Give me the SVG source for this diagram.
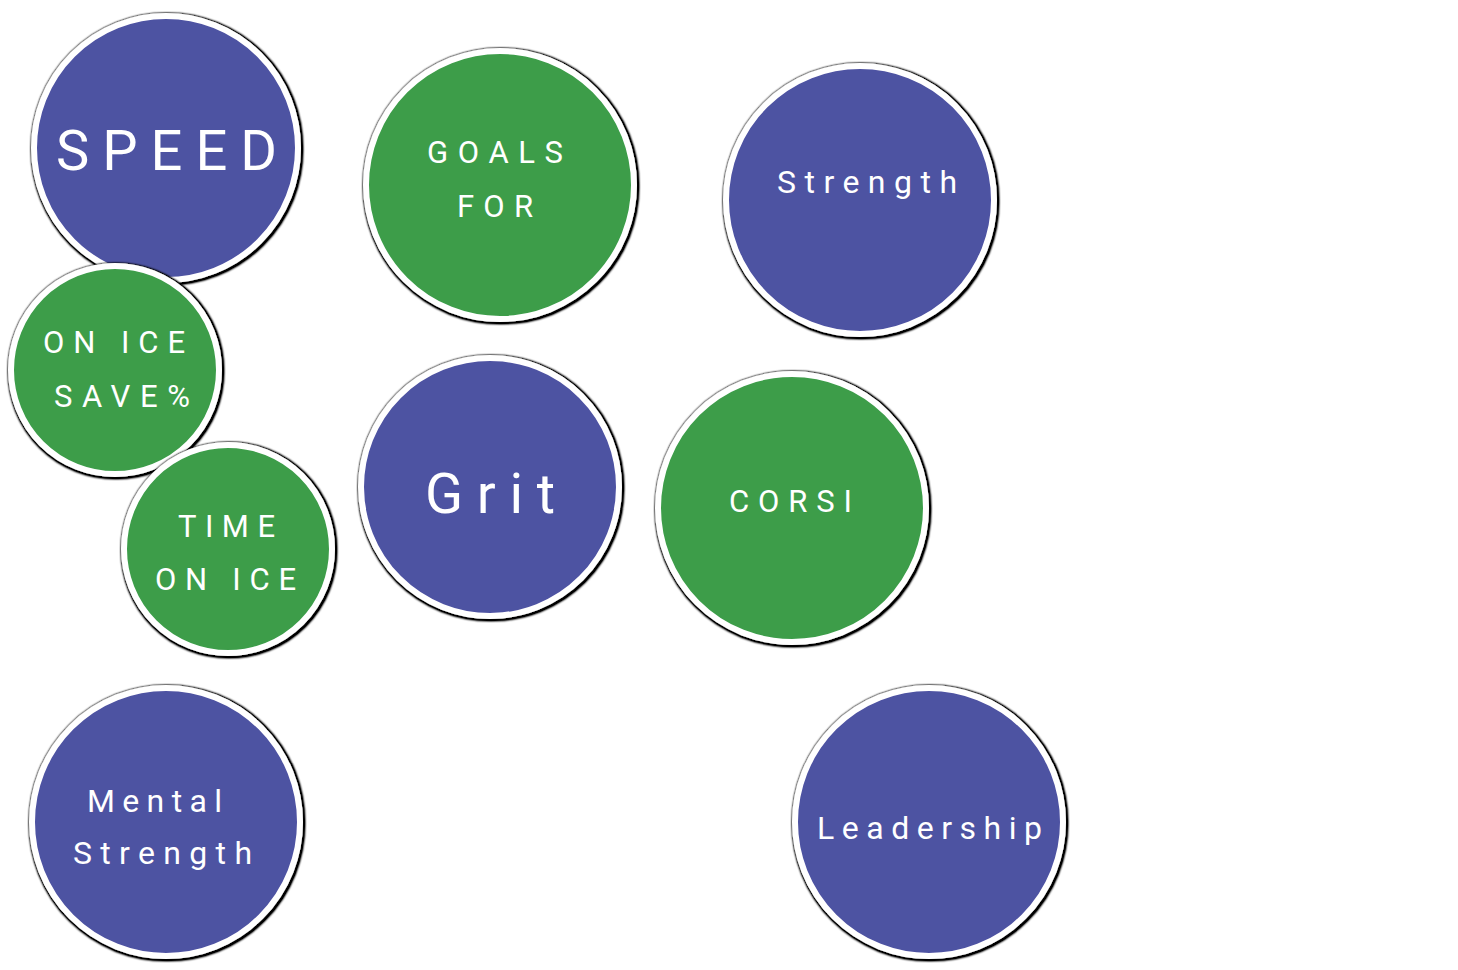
<svg xmlns="http://www.w3.org/2000/svg" width="1458" height="970" viewBox="0 0 1458 970">
<defs>
<filter id="sh" x="-10%" y="-10%" width="120%" height="120%">
<feMorphology in="SourceAlpha" operator="dilate" radius="1.2" result="d"/>
<feGaussianBlur in="d" stdDeviation="1.3" result="b"/>
<feOffset in="b" dx="0.6" dy="0.6" result="o"/>
<feComponentTransfer in="o" result="k"><feFuncA type="linear" slope="1.6"/></feComponentTransfer>
<feMerge><feMergeNode in="k"/><feMergeNode in="SourceGraphic"/></feMerge>
</filter>
<style>
.b{fill:#4E52A2;stroke:#fff;stroke-width:6;filter:url(#sh)}
.g{fill:#3C9D4A;stroke:#fff;stroke-width:6;filter:url(#sh)}
text{fill:#fff;font-family:Roboto,"Liberation Sans",sans-serif;font-weight:400}
.s{font-size:31px}
.m{font-size:32px}
.l{font-size:56px}
</style>
</defs>
<rect width="1458" height="970" fill="#fff"/>
<g id="connectors"/>
<g id="speed"><circle class="b" cx="166" cy="148" r="132"/><text class="l" x="56" y="170" textLength="221" lengthAdjust="spacing">SPEED</text></g>
<g id="onice-save"><circle class="g" cx="115" cy="370" r="104"/><text class="s" x="43" y="353" textLength="142" lengthAdjust="spacing">ON ICE</text><text class="s" x="54" y="407" textLength="136" lengthAdjust="spacing">SAVE%</text></g>
<g id="time-on-ice"><circle class="g" cx="228" cy="549" r="104"/><text class="s" x="178" y="537" textLength="97" lengthAdjust="spacing">TIME</text><text class="s" x="155" y="590" textLength="141" lengthAdjust="spacing">ON ICE</text></g>
<g id="goals-for"><circle class="g" cx="500" cy="185" r="134"/><text class="s" x="427" y="163" textLength="136" lengthAdjust="spacing">GOALS</text><text class="s" x="457" y="217" textLength="76" lengthAdjust="spacing">FOR</text></g>
<g id="strength"><circle class="b" cx="860" cy="200" r="134"/><text class="m" x="777" y="193" textLength="180" lengthAdjust="spacing">Strength</text></g>
<g id="grit"><circle class="b" cx="490" cy="487" r="129"/><text class="l" x="425" y="513" textLength="130" lengthAdjust="spacing">Grit</text></g>
<g id="corsi"><circle class="g" cx="792" cy="508" r="134"/><text class="s" x="729" y="512" textLength="123" lengthAdjust="spacing">CORSI</text></g>
<g id="mental-strength"><circle class="b" cx="166" cy="822" r="134"/><text class="m" x="87" y="812" textLength="135" lengthAdjust="spacing">Mental</text><text class="m" x="73" y="864" textLength="179" lengthAdjust="spacing">Strength</text></g>
<g id="leadership"><circle class="b" cx="929" cy="822" r="134"/><text class="m" x="817" y="839" textLength="225" lengthAdjust="spacing">Leadership</text></g>
</svg>
